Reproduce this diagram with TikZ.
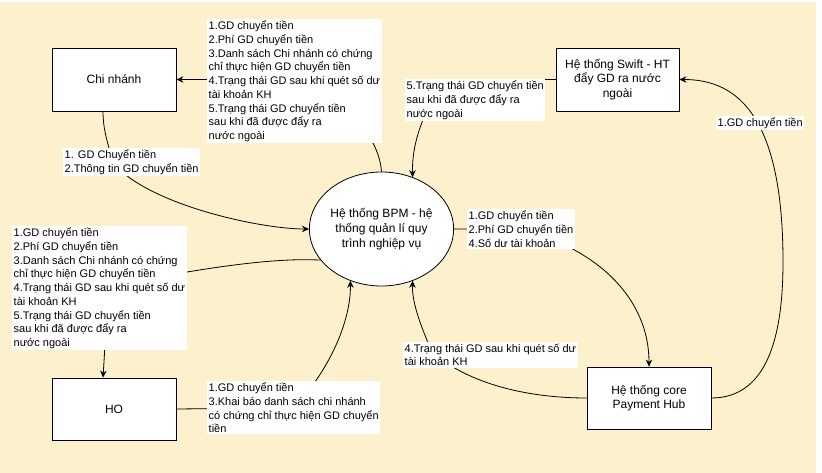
\documentclass[tikz,border=0pt]{standalone}
\usepackage{fontspec}
\setmainfont{Liberation Sans}
\usetikzlibrary{arrows.meta,shapes.geometric,backgrounds}
\definecolor{bgyel}{RGB}{253,240,205}
\begin{document}
\begin{tikzpicture}[x=1pt,y=-1pt,
  box/.style={draw=black,line width=0.8pt,fill=white,rectangle,minimum width=124pt,minimum height=63pt,align=center,font=\fontsize{12}{14.5}\selectfont,inner sep=0pt},
  proc/.style={draw=black,line width=0.8pt,fill=white,ellipse,minimum width=125pt,minimum height=114pt,inner sep=0pt,align=center,font=\fontsize{12}{15}\selectfont},
  lbl/.style={fill=white,anchor=north west,align=left,inner xsep=1.5pt,inner ysep=1.5pt,font=\fontsize{11}{13.75}\selectfont},
  conn/.style={line width=0.8pt},
  arr/.style={conn,-{Stealth[length=7pt,width=6.5pt]}}]
\useasboundingbox (0,0) rectangle (822,473);

% boxes
\node[box] (chi) at (114,79.5) {Chi nhánh};
\node[box,minimum height=62pt] (ho) at (114,409) {HO};
\node[box,minimum width=123pt] (swift) at (617.5,79.5) {Hệ thống Swift - HT\\đẩy GD ra nước\\ngoài};
\node[box,minimum height=62pt] (core) at (649,398) {Hệ thống core\\Payment Hub};
\node[proc] (bpm) at (381.5,229) {Hệ thống BPM - hệ\\thống quản lí quy\\trình nghiệp vụ};

% labels
\node[lbl] (L1) at (207,19) {1.GD chuyển tiền\\2.Phí GD chuyển tiền\\3.Danh sách Chi nhánh có chứng\\chỉ thực hiện GD chuyển tiền\\4.Trạng thái GD sau khi quét số dư\\tài khoản KH\\5.Trạng thái GD chuyển tiền\\sau khi đã được đẩy ra\\nước ngoài};
\node[lbl] (L2) at (63,148) {1. GD Chuyển tiền\\2.Thông tin GD chuyển tiền};
\node[lbl] (L3) at (12,226) {1.GD chuyển tiền\\2.Phí GD chuyển tiền\\3.Danh sách Chi nhánh có chứng\\chỉ thực hiện GD chuyển tiền\\4.Trạng thái GD sau khi quét số dư\\tài khoản KH\\5.Trạng thái GD chuyển tiền\\sau khi đã được đẩy ra\\nước ngoài};
\node[lbl] (L4) at (207,381) {1.GD chuyển tiền\\3.Khai báo danh sách chi nhánh\\có chứng chỉ thực hiện GD chuyển\\tiền};
\node[lbl] (L5) at (403,342) {4.Trạng thái GD sau khi quét số dư\\tài khoản KH};
\node[lbl] (L6) at (467,209) {1.GD chuyển tiền\\2.Phí GD chuyển tiền\\4.Số dư tài khoản};
\node[lbl] (L7) at (405,79) {5.Trạng thái GD chuyển tiền\\sau khi đã được đẩy ra\\nước ngoài};
\node[lbl] (L8) at (716,116) {1.GD chuyển tiền};

\coordinate (k2) at (114,164);
\coordinate (k5) at (432,352);
\coordinate (k7) at (428,108);
\coordinate (k8) at (783,262);

\begin{pgfonlayer}{background}
\fill[white] (0,0) rectangle (822,473);
\fill[bgyel] (0,2) rectangle (816,473);
% BPM -> Chi nhanh
\draw[conn] (bpm.north) .. controls (380,150) and (365,110) .. (L1.center);
\draw[arr] (L1.west |- chi.east) -- (chi.east);
% Chi nhanh -> BPM
\draw[conn] ([xshift=-11pt]chi.south) .. controls (103,130) and (108,145) .. (k2);
\draw[arr] (k2) .. controls (150,205) and (260,229) .. (bpm.west);
% BPM -> HO
\draw[conn] (bpm.207) .. controls (280,258) and (220,264) .. (L3.center);
\draw[arr] (L3.center) .. controls (106,330) .. ([xshift=-11pt]ho.north);
% HO -> BPM
\draw[conn] (ho.east) -- (L4.center);
\draw[arr] (L4.center) .. controls (330,370) and (351,320) .. (bpm.239);
% Core -> BPM
\draw[conn] (core.west) .. controls (530,398) and (470,385) .. (k5);
\draw[arr] (k5) .. controls (418,320) and (412,300) .. (bpm.301);
% BPM -> Core
\draw[conn] (bpm.east) -- (L6.center);
\draw[arr] (L6.center) .. controls (600,250) and (649,300) .. (core.north);
% Swift -> BPM
\draw[conn] (swift.west) -- (swift.west -| k7) -- (k7);
\draw[arr] (k7) .. controls (418,130) and (412,150) .. (bpm.59);
% Core -> Swift
\draw[arr] (core.east) .. controls (770,398) and (783,330) .. (k8) .. controls (783,120) and (740,79.5) .. (swift.east);
\end{pgfonlayer}
\end{tikzpicture}
\end{document}
